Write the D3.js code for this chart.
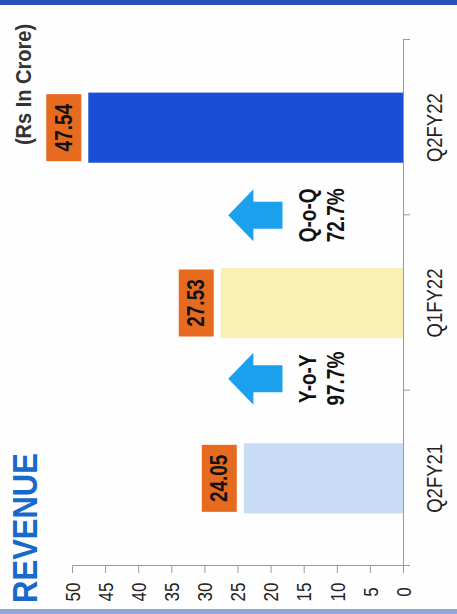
<!DOCTYPE html>
<html>
<head>
<meta charset="utf-8">
<script src="https://cdn.jsdelivr.net/npm/d3@7"></script>
<style>
  body { margin: 0; background: #fff; }
  text { font-family: "Liberation Sans", Arial, sans-serif; }
</style>
</head>
<body>
<script>
// chart data
const categories = ["Q2FY21", "Q1FY22", "Q2FY22"];
const revenue = [24.05, 27.53, 47.54];
const barColors = ["#c8ddf5", "#faf0b6", "#1a4ed6"];
const yTicks = [0, 5, 10, 15, 20, 25, 30, 35, 40, 45, 50];
const growthLabels = ["Y-o-Y", "Q-o-Q"];
const growthValues = ["97.7%", "72.7%"];

const W = 457, H = 614;

const svg = d3.select("body").append("svg")
    .attr("width", W)
    .attr("height", H);

svg.append("rect").attr("width", W).attr("height", H).attr("fill", "#fefefe");

// the whole slide is turned a quarter turn, so draw it upright and rotate
const g = svg.append("g")
    .attr("transform", `translate(0,${H}) rotate(-90)`);

const x = d3.scaleBand()
    .domain(categories)
    .range([48, 574])
    .paddingInner(0.6)
    .paddingOuter(0.3);

const y = d3.scaleLinear()
    .domain([0, 50])
    .range([403, 72]);

const stretch = 1.22; // scanned picture is taller than wide

// value axis
const yAxis = g.append("g")
    .attr("transform", "translate(48,0)")
    .call(d3.axisLeft(y).tickValues(yTicks).tickSize(7).tickSizeOuter(0));
yAxis.select(".domain").attr("stroke", "#9a9a9a");
yAxis.selectAll(".tick line").attr("stroke", "#9a9a9a");
yAxis.selectAll(".tick text")
    .attr("x", 0)
    .attr("dy", "0.35em")
    .attr("text-anchor", "middle")
    .attr("transform", `translate(-26,0) scale(1,${stretch})`)
    .attr("font-size", 17)
    .attr("font-family", "Liberation Sans, Arial, sans-serif")
    .attr("fill", "#222");

// category axis with ticks between the bars
const x0 = x.range()[0], x1 = x.range()[1];
g.append("line")
    .attr("x1", x0).attr("x2", x1)
    .attr("y1", y(0) + 0.5).attr("y2", y(0) + 0.5)
    .attr("stroke", "#9a9a9a");
g.selectAll(".cattick")
  .data(d3.range(categories.length + 1))
  .join("line")
    .attr("class", "cattick")
    .attr("x1", i => x0 + i * x.step() + 0.5)
    .attr("x2", i => x0 + i * x.step() + 0.5)
    .attr("y1", y(0))
    .attr("y2", y(0) + 7)
    .attr("stroke", "#9a9a9a");

g.selectAll(".catlabel")
  .data(categories)
  .join("text")
    .attr("class", "catlabel")
    .attr("transform", d => `translate(${x(d) + x.bandwidth() / 2},434) scale(1,${stretch})`)
    .attr("dy", "0.35em")
    .attr("text-anchor", "middle")
    .attr("font-size", 18.5)
    .attr("fill", "#222")
    .text(d => d);

// bars
g.selectAll(".bar")
  .data(revenue)
  .join("rect")
    .attr("class", "bar")
    .attr("x", (d, i) => x(categories[i]))
    .attr("y", d => y(d))
    .attr("width", x.bandwidth())
    .attr("height", d => y(0) - y(d))
    .attr("fill", (d, i) => barColors[i]);

// value labels in orange boxes
const lab = g.selectAll(".vlabel")
  .data(revenue)
  .join("g")
    .attr("class", "vlabel")
    .attr("transform", (d, i) => `translate(${x(categories[i]) + x.bandwidth() / 2},${y(d) - 24.5})`);
lab.append("rect")
    .attr("x", -33.5).attr("y", -17.5)
    .attr("width", 67).attr("height", 35)
    .attr("fill", "#e66a1f");
lab.append("text")
    .attr("transform", `scale(1,${stretch})`)
    .attr("dy", "0.35em")
    .attr("text-anchor", "middle")
    .attr("font-size", 19)
    .attr("font-weight", "bold")
    .attr("fill", "#111")
    .text(d => d.toFixed(2));

// growth arrows between the bars
const arrowShift = [12, 0];
const arrow = g.selectAll(".growth")
  .data(growthLabels)
  .join("g")
    .attr("class", "growth")
    .attr("transform", (d, i) => `translate(${x0 + (i + 1) * x.step() + arrowShift[i]},0)`);

const tip = y(26.4), neck = y(22.6), tail = y(18.2);
arrow.append("path")
    .attr("d", `M0,${tip} L26,${neck} L13.5,${neck} L13.5,${tail} L-13.5,${tail} L-13.5,${neck} L-26,${neck} Z`)
    .attr("fill", "#1ba0ee");
arrow.append("text")
    .attr("transform", `translate(0,307.5) scale(1,${stretch})`)
    .attr("dy", "0.35em")
    .attr("text-anchor", "middle")
    .attr("font-size", 19)
    .attr("font-weight", "bold")
    .attr("fill", "#111")
    .text(d => d);
arrow.append("text")
    .attr("transform", `translate(0,335.5) scale(1,${stretch})`)
    .attr("dy", "0.35em")
    .attr("text-anchor", "middle")
    .attr("font-size", 19)
    .attr("font-weight", "bold")
    .attr("fill", "#111")
    .text((d, i) => growthValues[i]);

// title and unit note
g.append("text")
    .attr("transform", "translate(86,24.5) scale(1,1.13)")
    .attr("dy", "0.35em")
    .attr("text-anchor", "middle")
    .attr("font-size", 31)
    .attr("font-weight", "bold")
    .attr("fill", "#1769cc")
    .text("REVENUE");

g.append("text")
    .attr("transform", "translate(529.5,23) scale(1,1.1)")
    .attr("dy", "0.35em")
    .attr("text-anchor", "middle")
    .attr("font-size", 20)
    .attr("font-weight", "bold")
    .attr("fill", "#333")
    .text("(Rs In Crore)");

// slide border strips
svg.append("rect").attr("x", 0).attr("y", 0).attr("width", W).attr("height", 5).attr("fill", "#2651b8");
svg.append("rect").attr("x", 0).attr("y", H - 5).attr("width", W).attr("height", 5).attr("fill", "#8ea6d8");
</script>
</body>
</html>
